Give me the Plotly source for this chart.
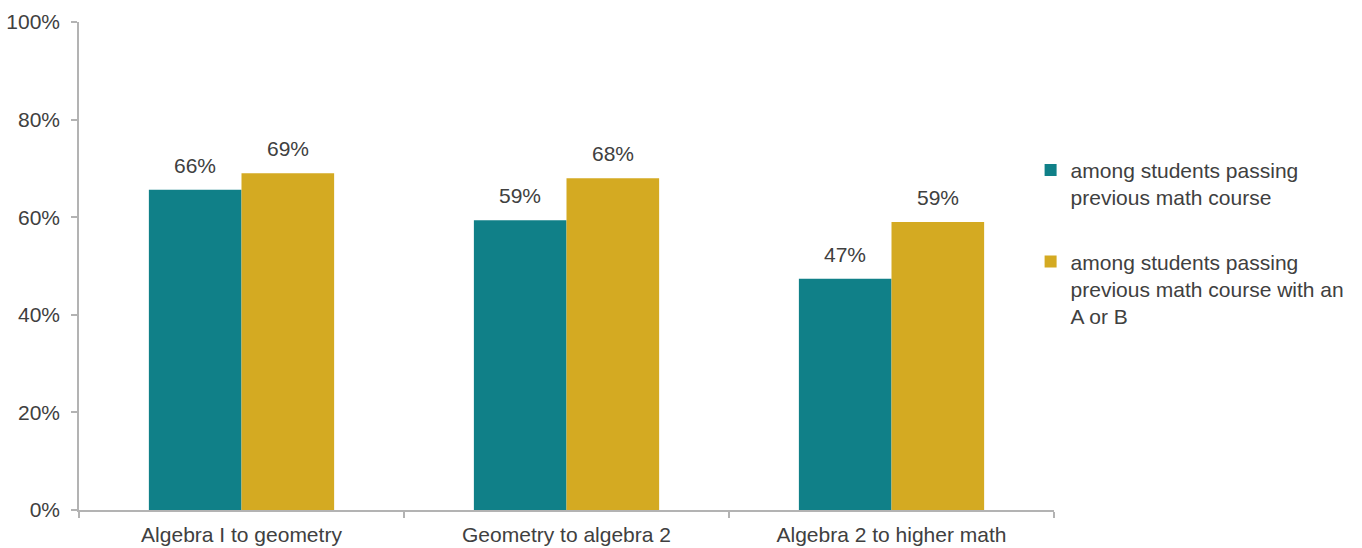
import plotly.graph_objects as go

# Course transitions and success rates (%)
categories = ["Algebra I to geometry", "Geometry to algebra 2", "Algebra 2 to higher math"]
series_names = [
    "among students passing<br>previous math course",
    "among students passing<br>previous math course with an<br>A or B",
]
passing = [65.6, 59.4, 47.4]
passing_ab = [69.0, 68.0, 59.0]
colors = ["#108088", "#D4AA22"]
y_ticks = [0, 20, 40, 60, 80, 100]
y_tick_labels = [f"{t}%" for t in y_ticks]

FONT = "Liberation Sans, Arial, sans-serif"
TEXT_COLOR = "#404040"
AXIS_COLOR = "#b3b3b3"
BARGAP = 0.43

fig = go.Figure()
for i, (name, vals, col) in enumerate(zip(series_names, [passing, passing_ab], colors)):
    fig.add_trace(go.Bar(
        x=categories, y=vals, name=name, marker_color=col,
        marker_line_width=0, legendgroup=f"g{i}",
    ))

# value labels above each bar
half = (1 - BARGAP) / 4
for s, vals in enumerate([passing, passing_ab]):
    for j, v in enumerate(vals):
        fig.add_annotation(
            x=j + (2 * s - 1) * half, y=v, xref="x", yref="y",
            text=f"{v:.0f}%", showarrow=False, yanchor="bottom", yshift=11,
            font=dict(family=FONT, size=21, color=TEXT_COLOR),
        )

fig.update_layout(
    width=1362, height=548,
    margin=dict(l=79, r=308, t=22, b=38, pad=0),
    paper_bgcolor="white", plot_bgcolor="white",
    barmode="group", bargap=BARGAP, bargroupgap=0,
    font=dict(family=FONT, size=21, color=TEXT_COLOR),
    legend=dict(
        x=0.976, y=0.738, xanchor="left", yanchor="top",
        valign="top", tracegroupgap=34, traceorder="grouped",
        font=dict(family=FONT, size=21, color=TEXT_COLOR),
        bgcolor="rgba(0,0,0,0)", borderwidth=0,
    ),
    showlegend=True,
)
fig.update_xaxes(
    type="category", showline=True, linecolor=AXIS_COLOR, linewidth=1.5,
    ticks="outside", tickson="boundaries", ticklen=6, tickcolor=AXIS_COLOR,
    tickwidth=1.5, showgrid=False, zeroline=False, ticklabelstandoff=5,
    automargin=False,
    tickfont=dict(family=FONT, size=21, color=TEXT_COLOR),
)
fig.update_yaxes(
    range=[0, 100], tickmode="array", tickvals=y_ticks, ticktext=y_tick_labels,
    showline=True, linecolor=AXIS_COLOR, linewidth=1.5, ticks="outside",
    ticklen=6, tickcolor=AXIS_COLOR, tickwidth=1.5, showgrid=False,
    zeroline=False, ticklabelstandoff=7, automargin=False,
    tickfont=dict(family=FONT, size=21, color=TEXT_COLOR),
)

fig.write_html("out.html")
